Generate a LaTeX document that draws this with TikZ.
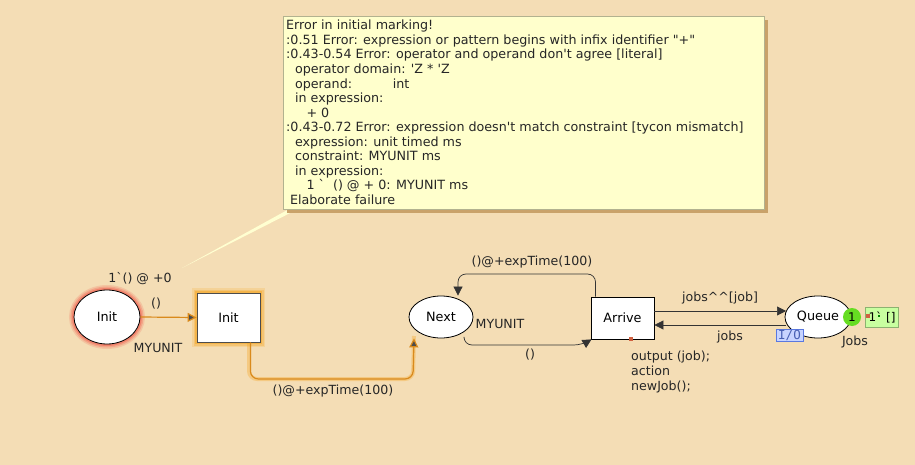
\documentclass[tikz,border=0pt]{standalone}
\usepackage{fontspec}
\setmainfont{DejaVu Sans}[Ligatures=TeXOff]
\setmonofont{DejaVu Sans Mono}
\usetikzlibrary{arrows.meta,shapes.geometric}
\definecolor{bg}{HTML}{F4DDB5}
\definecolor{note}{HTML}{FFFFCC}
\definecolor{notesh}{HTML}{C9A26A}
\definecolor{arcor}{HTML}{D98A1C}
\definecolor{glowor}{HTML}{F5A623}
\definecolor{glowred}{HTML}{F06050}
\definecolor{tokgreen}{HTML}{66DD22}
\definecolor{tokbox}{HTML}{C8FFA0}
\definecolor{iobox}{HTML}{C8D4FF}
\definecolor{ioline}{HTML}{5A78E0}
\definecolor{redsq}{HTML}{D06040}
\begin{document}
\begin{tikzpicture}[x=1pt,y=-1pt,
  txt/.style={font=\fontsize{12.6}{14}\selectfont, text=black!85, inner sep=0pt},
  place/.style={draw=black, fill=white, ellipse, line width=0.8pt, inner sep=0pt, font=\fontsize{12.8}{14}\selectfont},
  trans/.style={draw=black, fill=white, rectangle, line width=0.8pt, inner sep=0pt, font=\fontsize{12.8}{14}\selectfont},
  arc/.style={draw=black!80, line width=0.7pt, rounded corners=8pt, -{Triangle[length=9pt,width=9pt]}},
  oarc/.style={draw=arcor, line width=1.2pt, rounded corners=8pt, -{Triangle[length=9pt,width=9pt,fill=black!70]}},
]
\useasboundingbox (0,0) rectangle (915,465);
\fill[bg] (0,0) rectangle (915,465);

% callout pointer
\fill[note!90!white] (182,268) -- (291,208) -- (300,208) -- cycle;
% note box shadow and box
\fill[notesh] (287,20) rectangle (768,213);
\fill[note] (283,16) rectangle (764,209);
\draw[note!70!black, line width=0.3pt] (283,16) rectangle (764,209);
\node[anchor=north west, align=left, inner sep=0pt, font=\fontsize{12.7}{14.55}\selectfont, text=black!85] (err) at (286,20) {Error in initial marking!\\
:0.51 Error: expression or pattern begins with infix identifier "+"\\
:0.43-0.54 Error: operator and operand don't agree [literal]\\
\hspace*{0.7em}operator domain: 'Z * 'Z\\
\hspace*{0.7em}operand:\hspace{3.2em}int\\
\hspace*{0.7em}in expression:\\
\hspace*{1.6em}+ 0\\
:0.43-0.72 Error: expression doesn't match constraint [tycon mismatch]\\
\hspace*{0.7em}expression: unit timed ms\\
\hspace*{0.7em}constraint: MYUNIT ms\\
\hspace*{0.7em}in expression:\\
\hspace*{1.6em}1 `\ \ () @ + 0: MYUNIT ms\\
\hspace*{0.3em}Elaborate failure};

% glows
\foreach \w/\o in {10/0.2,7/0.3,4/0.5}{
  \draw[glowred, line width=\w pt, opacity=\o] (107,317) ellipse (33 and 27);
  \draw[glowor, line width=\w pt, opacity=\o] (197,293) rectangle (260,342);
}
\draw[glowor, line width=4pt, opacity=0.35, rounded corners=8pt] (249,342) |- (413,379) -- (414,336);

% nodes
\node[place, minimum width=66pt, minimum height=54pt] (initp) at (107,317) {Init};
\node[trans, minimum width=63pt, minimum height=49pt, draw=black!70] (initt) at (228.5,317.5) {Init};
\node[place, minimum width=64pt, minimum height=42pt] (next) at (441,317) {Next};
\node[trans, minimum width=63pt, minimum height=42pt] (arrive) at (622.5,318) {Arrive};
\node[place, minimum width=66pt, minimum height=42pt] (queue) at (818,317) {Queue};

% arcs
\draw[oarc] (initp.east) -- (initt.west);
\draw[oarc] ([xshift=-10pt]initt.south east) |- (413,379) -- ([xshift=-27pt]next.south);
\draw[arc] ([xshift=-27pt]arrive.north) |- (458,274) -- ([xshift=17pt]next.north);
\draw[arc] ([xshift=23pt]next.south) |- (582,345) -- ([xshift=-31pt]arrive.south);
\draw[arc] (arrive.east |- 0,311) -- (786,311);
\draw[arc] (786,325) -- (arrive.east |- 0,325);

% labels
\node[txt] (l1) at (140,279) {1`() @ +0};
\node[txt] (l2) at (156,304) {()};
\node[txt] (l3) at (158,348) {MYUNIT};
\node[txt] (l4) at (333,391) {()@+expTime(100)};
\node[txt] (l5) at (500,324) {MYUNIT};
\node[txt] (l6) at (532,262) {()@+expTime(100)};
\node[txt] (l7) at (530,355) {()};
\node[txt] (l8) at (720,298) {jobs\^{}\^{}[job]};
\node[txt] (l9) at (730,337) {jobs};
\node[txt] (l10) at (855,342) {Jobs};
\node[txt, anchor=north west, align=left, font=\fontsize{12.6}{15}\selectfont] (code) at (631,351) {output (job);\\action\\newJob();};

% red marker on Arrive
\fill[redsq] (629,337) rectangle (633,341);

% I/O tag
\node[draw=ioline, fill=iobox, line width=0.6pt, minimum width=27pt, minimum height=12pt, inner sep=0pt, font=\fontsize{12.5}{12}\selectfont\ttfamily, text=ioline!80!black] (io) at (789.5,335) {I/O};

% token count and marking
\node[circle, fill=tokgreen, minimum size=18pt, inner sep=0pt, font=\fontsize{12}{13}\selectfont] (cnt) at (852,317) {1};
\node[fill=tokbox, draw=tokbox!70!black, line width=0.3pt, minimum width=33pt, minimum height=20pt, inner sep=0pt, font=\fontsize{12}{13}\selectfont] (mark) at (882,317.5) {1`\,\,[]};
\fill[redsq] (866,314) rectangle (870,318);
\fill[green!50!black] (878,315) rectangle (880,317);
\end{tikzpicture}
\end{document}
